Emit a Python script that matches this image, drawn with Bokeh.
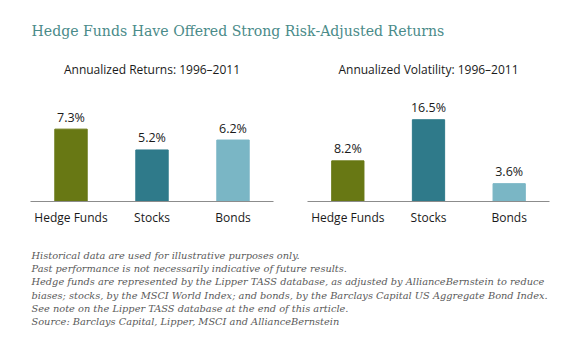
from bokeh.plotting import figure
from bokeh.models import ColumnDataSource, Range1d, FactorRange, Title
from bokeh.layouts import column, row
from bokeh.embed import file_html
from bokeh.resources import INLINE
from bokeh.core.properties import value

# ---- data ----
categories = ["Hedge Funds", "Stocks", "Bonds"]
returns = [7.3, 5.2, 6.2]
volatility = [8.2, 16.5, 3.6]
colors = ["#687814", "#2f7a8a", "#7ab6c5"]
title_text = "Hedge Funds Have Offered Strong Risk-Adjusted Returns"
left_title = "Annualized Returns: 1996\u20132011"
right_title = "Annualized Volatility: 1996\u20132011"
notes = [
    "Historical data are used for illustrative purposes only.",
    "Past performance is not necessarily indicative of future results.",
    "Hedge funds are represented by the Lipper TASS database, as adjusted by AllianceBernstein to reduce",
    "biases; stocks, by the MSCI World Index; and bonds, by the Barclays Capital US Aggregate Bond Index.",
    "See note on the Lipper TASS database at the end of this article.",
    "Source: Barclays Capital, Lipper, MSCI and AllianceBernstein",
]

SANS = "Open Sans"
SERIF = "DejaVu Serif"


def blank(w, h):
    p = figure(width=w, height=h, x_range=Range1d(0, w), y_range=Range1d(h, 0),
               x_axis_type=None, y_axis_type=None, toolbar_location=None,
               output_backend="svg", min_border=0)
    p.outline_line_color = None
    p.grid.visible = False
    return p


# ---- main title ----
top = blank(580, 46)
top.text(x=[31], y=[30], text=[title_text], text_font=value(SERIF),
         text_font_size="14.1px", text_color="#4a8b89", text_baseline="middle")


def panel(vals, ymax, ttl, left_border, right_border):
    src = ColumnDataSource(dict(cat=categories, val=vals, color=colors,
                                lab=["%.1f%%" % v for v in vals]))
    p = figure(width=290, height=189, x_range=FactorRange(*categories),
               y_range=Range1d(0, ymax), y_axis_type=None,
               toolbar_location=None, output_backend="svg",
               min_border_left=left_border, min_border_right=right_border,
               min_border_top=42, min_border_bottom=34)
    p.title = Title(text=ttl, align="center", text_font=SANS, text_font_size="12px",
                    text_font_style="normal", text_color="#1a1a1a", standoff=22)
    p.outline_line_color = None
    p.grid.visible = False
    p.vbar(x="cat", top="val", width=0.4, color="color", source=src)
    p.text(x="cat", y="val", text="lab", source=src, text_align="center",
           text_baseline="middle", y_offset=-12, text_font=value(SANS),
           text_font_size="12.5px", text_color="#1a1a1a")
    ax = p.xaxis[0]
    ax.axis_line_color = "#8c8c8c"
    ax.axis_line_width = 1.2
    ax.major_tick_line_color = None
    ax.minor_tick_line_color = None
    ax.major_label_standoff = 1
    ax.major_label_text_font = SANS
    ax.major_label_text_font_size = "12px"
    ax.major_label_text_color = "#1a1a1a"
    return p


left = panel(returns, 11.4, left_title, 30, 17)
right = panel(volatility, 22.8, right_title, 17, 31)

# ---- footnotes ----
bot = blank(580, 113)
bot.text(x=[31] * len(notes), y=[20 + 13.2 * i for i in range(len(notes))], text=notes,
         text_font=value(SERIF), text_font_style="italic", text_font_size="9.8px",
         text_color="#5a5a5a", text_baseline="middle")

layout = column(top, row(left, right), bot)
open("out.html", "w").write(file_html(layout, INLINE))
